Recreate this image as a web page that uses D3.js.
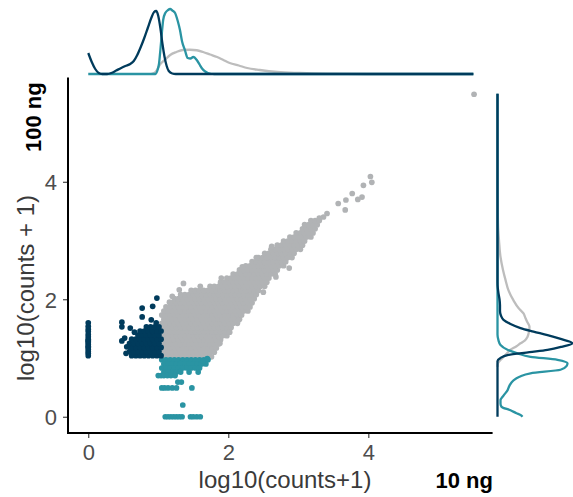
<!DOCTYPE html>
<html>
<head>
<meta charset="utf-8">
<script src="https://cdn.jsdelivr.net/npm/d3@7"></script>
<style>
  body { margin: 0; background: #fff; }
  text { font-family: "Liberation Sans", Arial, sans-serif; }
</style>
</head>
<body>
<script>
//Data----------------------------------------------------------------------------------------
// scatter rows: [y, [x values]]
var grayRows = [
  [1.03, [1.05,1.11,1.17,1.23,1.29,1.35,1.41,1.47,1.53,1.59,1.65,1.71]],
  [1.10, [1.08,1.14,1.20,1.26,1.32,1.38,1.44,1.50,1.56,1.62,1.68,1.74]],
  [1.17, [1.05,1.11,1.17,1.23,1.29,1.35,1.41,1.47,1.53,1.59,1.65,1.71,1.77,1.83]],
  [1.24, [1.08,1.14,1.20,1.26,1.32,1.38,1.44,1.50,1.56,1.62,1.68,1.74,1.80,1.86]],
  [1.31, [1.05,1.11,1.17,1.23,1.29,1.35,1.41,1.47,1.53,1.59,1.65,1.71,1.77,1.83,1.89]],
  [1.38, [1.08,1.14,1.20,1.26,1.32,1.38,1.44,1.50,1.56,1.62,1.68,1.74,1.80,1.86,1.92,1.98]],
  [1.45, [1.05,1.11,1.17,1.23,1.29,1.35,1.41,1.47,1.53,1.59,1.65,1.71,1.77,1.83,1.89,1.95,2.01]],
  [1.52, [1.08,1.14,1.20,1.26,1.32,1.38,1.44,1.50,1.56,1.62,1.68,1.74,1.80,1.86,1.92,1.98,2.04]],
  [1.59, [1.05,1.11,1.17,1.23,1.29,1.35,1.41,1.47,1.53,1.59,1.65,1.71,1.77,1.83,1.89,1.95,2.01,2.07,2.13]],
  [1.66, [1.08,1.14,1.20,1.26,1.32,1.38,1.44,1.50,1.56,1.62,1.68,1.74,1.80,1.86,1.92,1.98,2.04,2.10,2.16]],
  [1.73, [1.05,1.11,1.17,1.23,1.29,1.35,1.41,1.47,1.53,1.59,1.65,1.71,1.77,1.83,1.89,1.95,2.01,2.07,2.13,2.19]],
  [1.80, [1.08,1.14,1.20,1.26,1.32,1.38,1.44,1.50,1.56,1.62,1.68,1.74,1.80,1.86,1.92,1.98,2.04,2.10,2.16,2.22,2.28]],
  [1.87, [1.11,1.17,1.23,1.29,1.35,1.41,1.47,1.53,1.59,1.65,1.71,1.77,1.83,1.89,1.95,2.01,2.07,2.13,2.19,2.25,2.31]],
  [1.94, [1.20,1.26,1.32,1.38,1.44,1.50,1.56,1.62,1.68,1.74,1.80,1.86,1.92,1.98,2.04,2.10,2.16,2.22,2.28,2.34]],
  [2.01, [1.23,1.29,1.35,1.41,1.47,1.53,1.59,1.65,1.71,1.77,1.83,1.89,1.95,2.01,2.07,2.13,2.19,2.25,2.31,2.37]],
  [2.08, [1.32,1.38,1.44,1.50,1.56,1.62,1.68,1.74,1.80,1.86,1.92,1.98,2.04,2.10,2.16,2.22,2.28,2.34,2.40]],
  [2.15, [1.47,1.53,1.59,1.65,1.71,1.77,1.83,1.89,1.95,2.01,2.07,2.13,2.19,2.25,2.31,2.37,2.43]],
  [2.22, [1.74,1.80,1.86,1.92,1.98,2.04,2.10,2.16,2.22,2.28,2.34,2.40,2.46,2.52]],
  [2.29, [1.89,1.95,2.01,2.07,2.13,2.19,2.25,2.31,2.37,2.43,2.49,2.55]],
  [2.36, [1.98,2.04,2.10,2.16,2.22,2.28,2.34,2.40,2.46,2.52,2.58]],
  [2.43, [2.07,2.13,2.19,2.25,2.31,2.37,2.43,2.49,2.55,2.61,2.67]],
  [2.50, [2.16,2.22,2.28,2.34,2.40,2.46,2.52,2.58,2.64,2.70]],
  [2.57, [2.25,2.31,2.37,2.43,2.49,2.55,2.61,2.67,2.73,2.79]],
  [2.64, [2.34,2.40,2.46,2.52,2.58,2.64,2.70,2.76,2.82]],
  [2.71, [2.43,2.49,2.55,2.61,2.67,2.73,2.79,2.85,2.91]],
  [2.78, [2.52,2.58,2.64,2.70,2.76,2.82,2.88,2.94]],
  [2.85, [2.61,2.67,2.73,2.79,2.85,2.91,2.97,3.03]],
  [2.92, [2.70,2.76,2.82,2.88,2.94,3.00,3.06]],
  [2.99, [2.79,2.85,2.91,2.97,3.03,3.09]],
  [3.06, [2.88,2.94,3.00,3.06,3.12,3.18]],
  [3.13, [2.97,3.03,3.09,3.15,3.21]],
  [3.20, [3.06,3.12,3.18,3.24]],
  [3.27, [3.09,3.15,3.21,3.27]],
  [3.34, [3.18,3.24,3.30]]
];
var grayExtra = [
  [1.36,2.27],[1.30,2.16],[1.20,2.05],[1.16,1.95],[1.60,2.22],[1.90,2.36],[2.20,2.55],
  [2.40,2.71],[2.62,2.90],[2.50,2.12],[2.68,2.38],[2.87,2.53],[2.14,1.64],[2.02,1.44],
  [1.88,1.25],[1.80,1.10],[1.76,1.02],[3.36,3.40],[3.41,3.46],[3.30,3.38],[3.57,3.63],
  [3.67,3.52],[3.68,3.69],[3.77,3.80],[3.85,3.70],[3.91,3.74],[3.93,3.94],[4.03,4.09],
  [4.05,3.99],[5.51,5.49]
];

var navyRows = [
  [1.04, [0.62,0.68,0.74,0.80,0.86,0.92,0.98,1.04]],
  [1.11, [0.59,0.65,0.71,0.77,0.83,0.89,0.95,1.01]],
  [1.18, [0.62,0.68,0.74,0.80,0.86,0.92,0.98,1.04]],
  [1.25, [0.59,0.65,0.71,0.77,0.83,0.89,0.95,1.01]],
  [1.32, [0.62,0.68,0.74,0.80,0.86,0.92,0.98,1.04]],
  [1.39, [0.71,0.77,0.83,0.89,0.95,1.01]],
  [1.46, [0.74,0.80,0.86,0.92,0.98,1.04]],
  [1.53, [0.83,0.89,0.95,1.01]]
];
var navyZeroCol = [1.04,1.08,1.11,1.15,1.18,1.20,1.23,1.26,1.28,1.30,1.32,1.36,1.40,1.45,1.49,1.54,1.60];
var navyExtra = [
  [0.98,2.02],[0.92,1.88],[0.77,1.85],[0.77,1.70],[0.90,1.65],[0.48,1.61],[0.48,1.53],
  [0.60,1.51],[0.52,1.34],[0.48,1.29],[0.55,1.19],[0.54,1.08],[0.66,1.44],[0.97,1.60]
];

var tealRows = [
  [0.97, [1.05,1.11,1.17,1.23,1.29,1.35,1.41,1.47,1.53,1.59,1.65,1.71]],
  [0.90, [1.08,1.14,1.20,1.26,1.32,1.38,1.44,1.50,1.56,1.62,1.68]],
  [0.83, [1.05,1.11,1.17,1.23,1.29,1.35,1.41,1.47,1.53,1.59]],
  [0.76, [1.08,1.14,1.20,1.26,1.32,1.44,1.57]],
  [0.70, [1.00,1.04,1.08,1.13,1.18,1.24]],
  [0.59, [1.28,1.33]],
  [0.49, [1.05,1.09,1.14,1.20,1.26,1.48]],
  [0.20, [1.35]],
  [0.00, [1.10,1.14,1.18,1.22,1.26,1.30,1.34,1.46,1.50,1.55,1.60]]
];
var tealExtra = [[1.64,0.95],[1.70,0.99]];

// marginal densities: [value, density]
var topGray = [[0.90,0],[0.96,0.08],[1.02,0.36],[1.10,0.58],[1.17,0.76],[1.26,0.88],[1.35,0.96],
  [1.45,0.97],[1.55,0.95],[1.64,0.88],[1.74,0.78],[1.84,0.68],[1.93,0.56],[2.02,0.44],[2.15,0.34],
  [2.27,0.24],[2.45,0.16],[2.70,0.08],[3.02,0.04],[3.41,0.012],[4.0,0],[5.5,0]];
var topTeal = [[0,0],[0.96,0],[0.99,0.16],[1.01,0.40],[1.03,0.96],[1.05,1.60],[1.07,2.16],[1.10,2.44],
  [1.14,2.56],[1.17,2.60],[1.20,2.54],[1.24,2.44],[1.28,2.10],[1.31,1.76],[1.34,1.30],[1.38,0.96],
  [1.42,0.64],[1.46,0.62],[1.50,0.68],[1.55,0.56],[1.59,0.38],[1.62,0.24],[1.67,0.10],[1.71,0.04],
  [1.80,0],[5.5,0]];
var topNavy = [[0,0.84],[0.05,0.48],[0.10,0.20],[0.15,0.04],[0.20,0],[0.27,0],[0.33,0.04],[0.40,0.14],
  [0.47,0.24],[0.53,0.32],[0.60,0.40],[0.65,0.52],[0.70,0.76],[0.75,1.08],[0.80,1.44],[0.85,1.84],
  [0.90,2.24],[0.94,2.48],[0.97,2.52],[1.00,2.32],[1.03,1.84],[1.06,1.20],[1.09,0.68],[1.12,0.32],
  [1.15,0.12],[1.20,0.02],[1.25,0],[5.5,0]];

var rightGray = [[0.85,0],[0.91,0.02],[1.00,0.20],[1.07,0.36],[1.14,0.52],[1.20,0.76],[1.25,0.92],
  [1.30,1.10],[1.36,1.20],[1.45,1.26],[1.53,1.28],[1.62,1.18],[1.70,1.10],[1.76,1.04],[1.85,0.84],
  [1.98,0.64],[2.15,0.44],[2.33,0.32],[2.50,0.22],[2.72,0.12],[3.00,0.06],[3.29,0.02],[3.6,0.01],
  [4.0,0],[5.5,0]];
var rightTeal = [[0,1.00],[0.03,0.92],[0.06,0.76],[0.11,0.52],[0.17,0.16],[0.22,0.12],[0.28,0.12],
  [0.36,0.24],[0.45,0.40],[0.53,0.48],[0.62,0.64],[0.68,0.88],[0.74,1.32],[0.80,2.52],[0.86,2.76],
  [0.91,2.80],[0.97,2.40],[1.02,1.32],[1.08,0.80],[1.14,0.40],[1.22,0.12],[1.30,0.04],[1.40,0],[5.5,0]];
var rightNavy = [[0,0],[0.95,0],[1.00,0.12],[1.05,0.40],[1.10,1.28],[1.14,2.00],[1.19,2.56],[1.25,3.00],
  [1.32,2.56],[1.39,2.00],[1.45,1.44],[1.51,0.92],[1.58,0.52],[1.65,0.24],[1.72,0.14],[1.80,0.10],
  [1.90,0.10],[2.00,0.08],[2.10,0.04],[2.20,0.01],[2.30,0],[5.5,0]];

var tickVals = [0, 2, 4];
var xTitle = "log10(counts+1)";
var yTitle = "log10(counts + 1)";
var xName = "10 ng";
var yName = "100 ng";

var colGray = "#b1b3b5";
var colTeal = "#2a94a3";
var colNavy = "#003b5c";

//Helpers-------------------------------------------------------------------------------------
function flatten(rows) {
  var out = [];
  rows.forEach(function(r) {
    r[1].forEach(function(x) { out.push([x, r[0]]); });
  });
  return out;
}

var grayPts = flatten(grayRows).concat(grayExtra);
var navyPts = flatten(navyRows).concat(navyZeroCol.map(function(v) { return [0, v]; })).concat(navyExtra);
var tealPts = flatten(tealRows).concat(tealExtra);

//Chart---------------------------------------------------------------------------------------
var svg = d3.select("body").append("svg")
  .attr("width", 573)
  .attr("height", 497);

var x = d3.scaleLinear().domain([-0.275, 5.775]).range([69, 492.6]);
var y = d3.scaleLinear().domain([-0.275, 5.775]).range([432.9, 77.5]);
var dTop = d3.scaleLinear().domain([0, 2.8]).range([74, 4]);
var dRight = d3.scaleLinear().domain([0, 3.2]).range([497.5, 577.5]);

// points
function drawPts(pts, col) {
  svg.append("g").selectAll("circle")
    .data(pts)
    .enter().append("circle")
    .attr("cx", function(d) { return x(d[0]); })
    .attr("cy", function(d) { return y(d[1]); })
    .attr("r", 2.85)
    .style("fill", col);
}
drawPts(grayPts, colGray);
drawPts(tealPts, colTeal);
drawPts(navyPts, colNavy);

// axes
var xAxis = svg.append("g")
  .attr("transform", "translate(0,433)")
  .call(d3.axisBottom(x).tickValues(tickVals).tickSize(5).tickPadding(6).tickFormat(d3.format("d")));
var yAxis = svg.append("g")
  .attr("transform", "translate(68,0)")
  .call(d3.axisLeft(y).tickValues(tickVals).tickSize(5).tickPadding(6).tickFormat(d3.format("d")));

[xAxis, yAxis].forEach(function(a) {
  a.select(".domain").remove();
  a.selectAll(".tick line").attr("stroke", "#333").attr("stroke-width", 1.1);
  a.selectAll(".tick text")
    .style("font-size", "22px")
    .style("font-family", "'Liberation Sans', Arial, sans-serif")
    .attr("fill", "#4d4d4d");
});
yAxis.selectAll(".tick text").attr("dy", "0.36em");

svg.append("line").attr("x1", 68).attr("x2", 68).attr("y1", 77.5).attr("y2", 434)
  .attr("stroke", "#000").attr("stroke-width", 2);
svg.append("line").attr("x1", 67).attr("x2", 492.6).attr("y1", 433).attr("y2", 433)
  .attr("stroke", "#000").attr("stroke-width", 2);

// titles
svg.append("text")
  .attr("x", 285).attr("y", 488)
  .attr("text-anchor", "middle")
  .style("font-size", "24px")
  .attr("fill", "#3a3a3a")
  .text(xTitle);

svg.append("text")
  .attr("transform", "translate(34,288) rotate(-90)")
  .attr("text-anchor", "middle")
  .style("font-size", "24px")
  .attr("fill", "#3a3a3a")
  .text(yTitle);

svg.append("text")
  .attr("x", 493).attr("y", 488)
  .attr("text-anchor", "end")
  .style("font-size", "22px")
  .style("font-weight", "bold")
  .text(xName);

svg.append("text")
  .attr("transform", "translate(41,152) rotate(-90)")
  .attr("text-anchor", "start")
  .style("font-size", "22px")
  .style("font-weight", "bold")
  .text(yName);

//Marginal densities--------------------------------------------------------------------------
var topLine = d3.line()
  .x(function(d) { return x(d[0]); })
  .y(function(d) { return dTop(d[1]); })
  .curve(d3.curveMonotoneX);
var rightLine = d3.line()
  .x(function(d) { return dRight(d[1]); })
  .y(function(d) { return y(d[0]); })
  .curve(d3.curveMonotoneY);

[[topGray, "#bdbdbd"], [topTeal, colTeal], [topNavy, colNavy]].forEach(function(s) {
  svg.append("path").datum(s[0])
    .attr("d", topLine)
    .attr("fill", "none")
    .attr("stroke", s[1])
    .attr("stroke-width", 2.3);
});
[[rightGray, "#bdbdbd"], [rightTeal, colTeal], [rightNavy, colNavy]].forEach(function(s) {
  svg.append("path").datum(s[0])
    .attr("d", rightLine)
    .attr("fill", "none")
    .attr("stroke", s[1])
    .attr("stroke-width", 2.3);
});
</script>
</body>
</html>
